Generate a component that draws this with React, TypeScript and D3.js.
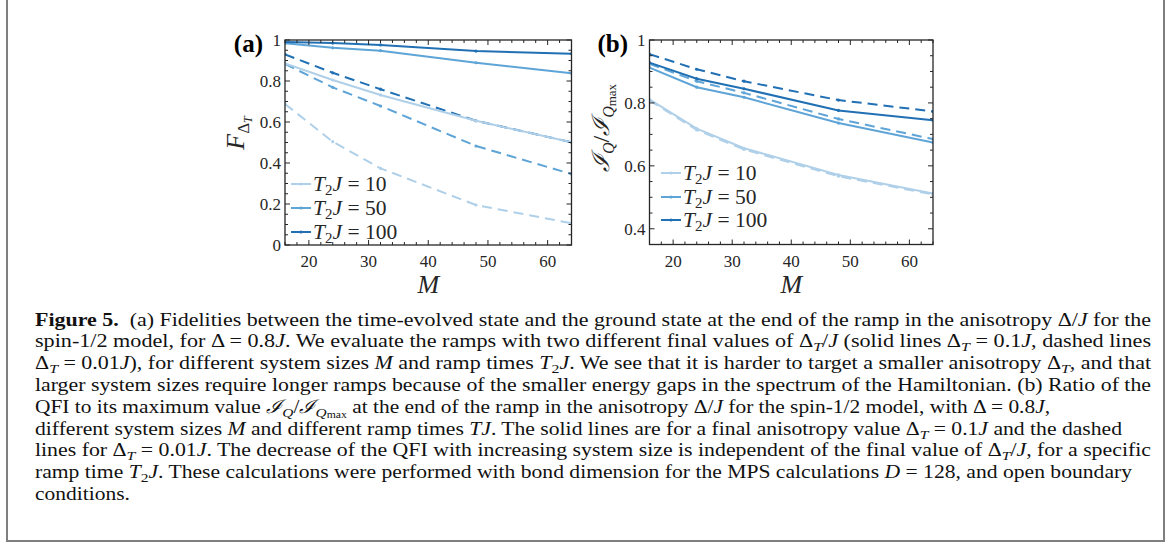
import React from "react";
import * as d3 from "d3";

// ---------------- data ----------------
const sizesM = [16, 24, 32, 48, 64];
const rampTimes = ["10", "50", "100"];
const seriesColors = ["#afd0e8", "#5ea4d7", "#2170b4"];

// panel (a): fidelity F_{Delta_T}
const fidSolid10 = [0.886, 0.805, 0.732, 0.606, 0.501];
const fidSolid50 = [0.984, 0.962, 0.948, 0.889, 0.838];
const fidSolid100 = [0.99, 0.985, 0.976, 0.946, 0.933];
const fidDash10 = [0.688, 0.504, 0.374, 0.195, 0.106];
const fidDash50 = [0.883, 0.769, 0.678, 0.483, 0.346];
const fidDash100 = [0.93, 0.84, 0.76, 0.606, 0.501];

// panel (b): QFI ratio
const qfiSolid10 = [0.811, 0.718, 0.656, 0.571, 0.512];
const qfiSolid50 = [0.912, 0.85, 0.818, 0.736, 0.674];
const qfiSolid100 = [0.928, 0.877, 0.845, 0.776, 0.745];
const qfiDash10 = [0.808, 0.714, 0.652, 0.567, 0.509];
const qfiDash50 = [0.924, 0.869, 0.832, 0.749, 0.685];
const qfiDash100 = [0.955, 0.907, 0.869, 0.809, 0.773];

const xTicks = [20, 30, 40, 50, 60];
const yTicksA = [0, 0.2, 0.4, 0.6, 0.8, 1];
const yTickLabelsA = ["0", "0.2", "0.4", "0.6", "0.8", "1"];
const yTicksB = [0.4, 0.6, 0.8, 1];
const yTickLabelsB = ["0.4", "0.6", "0.8", "1"];

const INK = "#262626";
const SERIF = "'Liberation Serif', 'DejaVu Serif', serif";

type Panel = {
  left: number; right: number; top: number; bottom: number;
  yDomain: [number, number];
  solid: number[][]; dashed: number[][];
  yTicks: number[]; yTickLabels: string[];
  legendX: number; legendY: number[];
};

function PanelView({ p }: { p: Panel }) {
  const x = d3.scaleLinear().domain([16, 64]).range([p.left, p.right]);
  const y = d3.scaleLinear().domain(p.yDomain).range([p.bottom, p.top]);
  const line = d3
    .line<[number, number]>()
    .x((d) => x(d[0]))
    .y((d) => y(d[1]));
  const minorX = d3.range(16, 64.01, 2);
  const minorY = d3.range(Math.ceil(p.yDomain[0] / 0.05 - 1e-6) * 0.05, p.yDomain[1] + 1e-6, 0.05);
  const ticks: React.ReactNode[] = [];
  minorX.forEach((v, i) => {
    const major = Math.abs(v % 10) < 1e-6;
    const L = major ? 5 : 3;
    ticks.push(<line key={"bx" + i} x1={x(v)} x2={x(v)} y1={p.bottom} y2={p.bottom - L} stroke={INK} strokeWidth={1} />);
    ticks.push(<line key={"tx" + i} x1={x(v)} x2={x(v)} y1={p.top} y2={p.top + L} stroke={INK} strokeWidth={1} />);
  });
  minorY.forEach((v, i) => {
    const major = Math.abs(Math.round(v * 100) % 20) < 1e-6;
    const L = major ? 5 : 3;
    ticks.push(<line key={"ly" + i} x1={p.left} x2={p.left + L} y1={y(v)} y2={y(v)} stroke={INK} strokeWidth={1} />);
    ticks.push(<line key={"ry" + i} x1={p.right} x2={p.right - L} y1={y(v)} y2={y(v)} stroke={INK} strokeWidth={1} />);
  });
  const draw = (vals: number[], color: string, dashed: boolean, key: string) => {
    const pts = sizesM.map((m, i) => [m, vals[i]] as [number, number]);
    return (
      <g key={key}>
        <path d={line(pts) || ""} fill="none" stroke={color} strokeWidth={2} strokeDasharray={dashed ? "10,6" : undefined} />
        {pts.map((d, i) => (
          <circle key={i} cx={x(d[0])} cy={y(d[1])} r={1.6} fill={color} />
        ))}
      </g>
    );
  };
  return (
    <g>
      <defs>
        <clipPath id={"clip" + Math.round(p.left)}>
          <rect x={p.left} y={p.top} width={p.right - p.left} height={p.bottom - p.top} />
        </clipPath>
      </defs>
      <g clipPath={`url(#clip${Math.round(p.left)})`}>
        {p.dashed.map((v, i) => draw(v, seriesColors[i], true, "d" + i))}
        {p.solid.map((v, i) => draw(v, seriesColors[i], false, "s" + i))}
      </g>
      {ticks}
      <rect x={p.left} y={p.top} width={p.right - p.left} height={p.bottom - p.top} fill="none" stroke={INK} strokeWidth={1.3} />
      {xTicks.map((t) => (
        <text key={"xl" + t} x={x(t)} y={p.bottom + 22} textAnchor="middle" fontFamily={SERIF} fontSize={17} fill={INK}>
          {t}
        </text>
      ))}
      {p.yTicks.map((t, i) => (
        <text key={"yl" + t} x={p.left - 4} y={y(t)} dy="0.35em" textAnchor="end" fontFamily={SERIF} fontSize={17} fill={INK}>
          {p.yTickLabels[i]}
        </text>
      ))}
      <text x={(p.left + p.right) / 2} y={p.bottom + 48} textAnchor="middle" fontFamily={SERIF} fontStyle="italic" fontSize={26} fill={INK}>
        M
      </text>
      {rampTimes.map((r, i) => (
        <g key={"lg" + r}>
          <line x1={p.legendX} x2={p.legendX + 20} y1={p.legendY[i]} y2={p.legendY[i]} stroke={seriesColors[i]} strokeWidth={2} />
          <circle cx={p.legendX + 10} cy={p.legendY[i]} r={1.6} fill={seriesColors[i]} />
          <text x={p.legendX + 22} y={p.legendY[i] + 7} fontFamily={SERIF} fontSize={21.5} fill={INK}>
            <tspan fontStyle="italic">T</tspan>
            <tspan fontSize={15} dy={4}>2</tspan>
            <tspan fontStyle="italic" dy={-4}>J</tspan>
            <tspan> = {r}</tspan>
          </text>
        </g>
      ))}
    </g>
  );
}

const panelA: Panel = {
  left: 285, right: 571.5, top: 40, bottom: 245, yDomain: [0, 1],
  solid: [fidSolid10, fidSolid50, fidSolid100],
  dashed: [fidDash10, fidDash50, fidDash100],
  yTicks: yTicksA, yTickLabels: yTickLabelsA,
  legendX: 291, legendY: [184, 208, 232],
};
const panelB: Panel = {
  left: 649.5, right: 933, top: 40, bottom: 244.5, yDomain: [0.35, 1],
  solid: [qfiSolid10, qfiSolid50, qfiSolid100],
  dashed: [qfiDash10, qfiDash50, qfiDash100],
  yTicks: yTicksB, yTickLabels: yTickLabelsB,
  legendX: 661, legendY: [173, 197, 220],
};

// caption segments: [text, style]; styles: n normal, i italic, b bold, s sub, si sub italic, ss sub-sub
type Seg = [string, string];
const DT: Seg[] = [["Δ", "n"], ["T", "si"]];
const captionLines: Seg[][] = [
  [["Figure 5.", "b"], ["\u00a0\u00a0(a) Fidelities between the time-evolved state and the ground state at the end of the ramp in the anisotropy Δ/", "n"], ["J", "i"], [" for the", "n"]],
  [["spin-1/2 model, for Δ = 0.8", "n"], ["J", "i"], [". We evaluate the ramps with two different final values of ", "n"], ...DT, ["/", "n"], ["J", "i"], [" (solid lines ", "n"], ...DT, [" = 0.1", "n"], ["J", "i"], [", dashed lines", "n"]],
  [...DT, [" = 0.01", "n"], ["J", "i"], ["), for different system sizes ", "n"], ["M", "i"], [" and ramp times ", "n"], ["T", "i"], ["2", "s"], ["J", "i"], [". We see that it is harder to target a smaller anisotropy ", "n"], ...DT, [", and that", "n"]],
  [["larger system sizes require longer ramps because of the smaller energy gaps in the spectrum of the Hamiltonian. (b) Ratio of the", "n"]],
  [["QFI to its maximum value ", "n"], ["ℐ", "i"], ["Q", "si"], ["/", "n"], ["ℐ", "i"], ["Q", "si"], ["max", "ss"], [" at the end of the ramp in the anisotropy Δ/", "n"], ["J", "i"], [" for the spin-1/2 model, with Δ = 0.8", "n"], ["J", "i"], [",", "n"]],
  [["different system sizes ", "n"], ["M", "i"], [" and different ramp times ", "n"], ["TJ", "i"], [". The solid lines are for a final anisotropy value ", "n"], ...DT, [" = 0.1", "n"], ["J", "i"], [" and the dashed", "n"]],
  [["lines for ", "n"], ...DT, [" = 0.01", "n"], ["J", "i"], [". The decrease of the QFI with increasing system size is independent of the final value of ", "n"], ...DT, ["/", "n"], ["J", "i"], [", for a specific", "n"]],
  [["ramp time ", "n"], ["T", "i"], ["2", "s"], ["J", "i"], [". These calculations were performed with bond dimension for the MPS calculations ", "n"], ["D", "i"], [" = 128, and open boundary", "n"]],
  [["conditions.", "n"]],
];
const captionEnds = [1151, 1151, 1151, 1151, 1050, 1122, 1151, 1132, 130];

function segTspans(segs: Seg[], base: number) {
  let cur = 0;
  return segs.map(([t, st], k) => {
    const off = st === "s" || st === "si" ? 4 : st === "ss" ? 5.5 : 0;
    const dy = off - cur;
    cur = off;
    const size = st === "s" || st === "si" ? base * 0.72 : st === "ss" ? base * 0.55 : undefined;
    return (
      <tspan
        key={k}
        dy={dy !== 0 ? dy : undefined}
        fontSize={size}
        fontStyle={st === "i" || st === "si" ? "italic" : undefined}
        fontWeight={st === "b" ? "bold" : undefined}
      >
        {t}
      </tspan>
    );
  });
}

export default function App() {
  const capX = 35;
  const capSize = 18.5;
  return (
    <svg width={1174} height={544} style={{ position: "absolute", left: 0, top: 0, background: "#fff" }}>
      <rect x={0} y={0} width={1174} height={544} fill="#fff" />
      <PanelView p={panelA} />
      <PanelView p={panelB} />
      {/* panel labels */}
      <text x={263} y={52} textAnchor="end" fontFamily={SERIF} fontWeight="bold" fontSize={25} fill="#000">(a)</text>
      <text x={628} y={52} textAnchor="end" fontFamily={SERIF} fontWeight="bold" fontSize={25} fill="#000">(b)</text>
      {/* y labels */}
      <text transform="translate(244,133) rotate(-90)" textAnchor="middle" fontFamily={SERIF} fontSize={26} fill={INK}>
        <tspan fontStyle="italic">F</tspan>
        <tspan fontSize={17} dy={5}>Δ</tspan>
        <tspan fontSize={12} fontStyle="italic" dy={3}>T</tspan>
      </text>
      <text transform="translate(609,128) rotate(-90)" textAnchor="middle" fontFamily={SERIF} fontSize={24} fill={INK}>
        <tspan fontStyle="italic">ℐ</tspan>
        <tspan fontSize={16} fontStyle="italic" dy={5}>Q</tspan>
        <tspan dy={-5}>/</tspan>
        <tspan fontStyle="italic">ℐ</tspan>
        <tspan fontSize={16} fontStyle="italic" dy={5}>Q</tspan>
        <tspan fontSize={13} dy={2}>max</tspan>
      </text>
      {/* caption frame */}
      <rect x={7} y={-4} width={1157} height={545} fill="none" stroke="#7f7f7f" strokeWidth={2} />
      {captionLines.map((segs, i) => (
        <text
          key={"cap" + i}
          x={capX}
          y={325.5 + i * 21.8}
          fontFamily={SERIF}
          fontSize={capSize}
          fill="#111"
          textLength={captionEnds[i] - capX}
          lengthAdjust="spacingAndGlyphs"
        >
          {segTspans(segs, capSize)}
        </text>
      ))}
    </svg>
  );
}
